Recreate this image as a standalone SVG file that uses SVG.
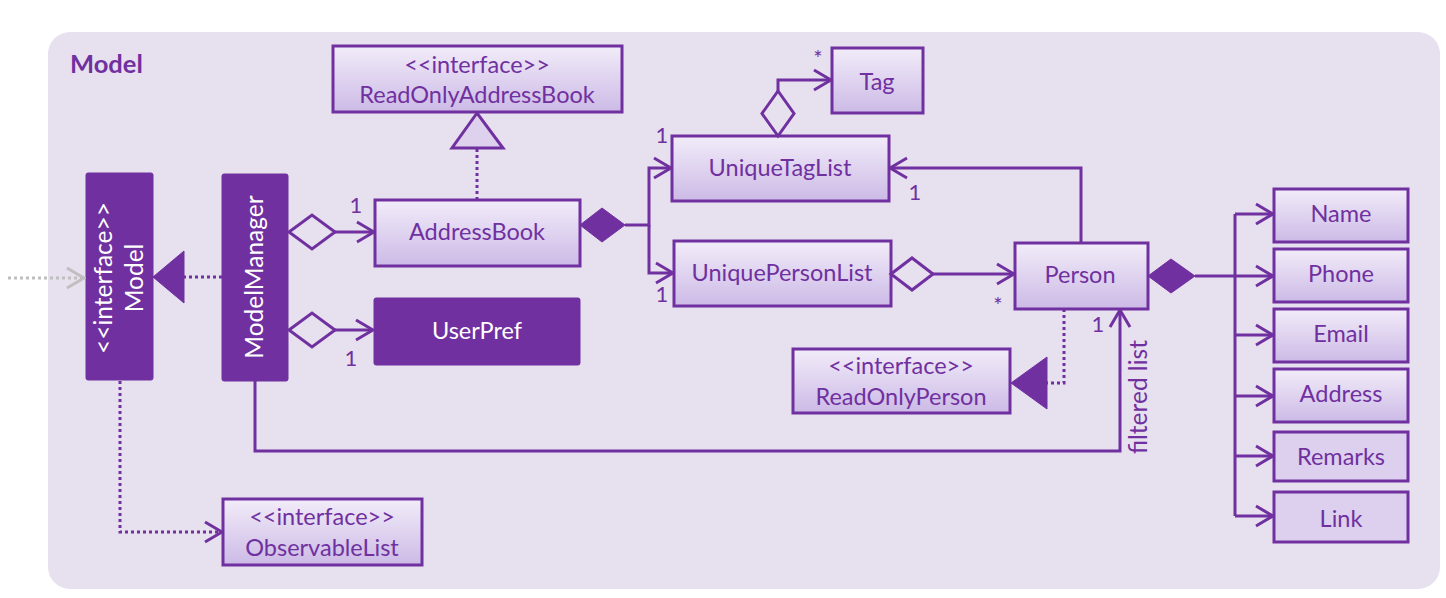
<svg xmlns="http://www.w3.org/2000/svg" width="1446" height="598" viewBox="0 0 1446 598">
<defs>
<linearGradient id="lg" x1="0" y1="0" x2="0" y2="1">
<stop offset="0" stop-color="#F2ECF9"/>
<stop offset="1" stop-color="#CCBAE6"/>
</linearGradient>
<marker id="open" viewBox="-20 -12 22 24" refX="0" refY="0" markerWidth="22" markerHeight="24" markerUnits="userSpaceOnUse" orient="auto">
<path d="M-17,-10 L0,0 L-17,10" fill="none" stroke="#7030A0" stroke-width="3"/>
</marker>
<marker id="opengray" viewBox="-20 -12 22 24" refX="0" refY="0" markerWidth="22" markerHeight="24" markerUnits="userSpaceOnUse" orient="auto">
<path d="M-17,-10 L0,0 L-17,10" fill="none" stroke="#BFBFBF" stroke-width="3"/>
</marker>
</defs>
<style>
text{font-family:Lato,"Liberation Sans",sans-serif;fill:#7030A0;}
.box{fill:url(#lg);stroke:#7030A0;stroke-width:3;}
.flat{fill:#DDD0EE;stroke:#7030A0;stroke-width:3;}
.dark{fill:#7030A0;stroke:#7030A0;stroke-width:1;}
.lbl{font-size:23.5px;text-anchor:middle;}
.rot{font-size:24.5px;text-anchor:middle;}
.wt{fill:#FFFFFF;}
.ln{fill:none;stroke:#7030A0;stroke-width:3;}
.dot{fill:none;stroke:#7030A0;stroke-width:3;stroke-dasharray:3 3;}
.mult{font-size:22px;text-anchor:middle;}
.hd{fill:#E7E0EE;stroke:#7030A0;stroke-width:3;}
.fd{fill:#7030A0;stroke:#7030A0;stroke-width:1;}
</style>
<g id="model-package">
<rect x="48" y="32" width="1392" height="557" rx="22" fill="#E7E0EE"/>
<text x="70" y="73" font-size="25.5" font-weight="bold">Model</text>
</g>
<g id="Model">
<rect class="dark" x="86" y="173" width="67" height="207" rx="2"/>
<text class="rot wt" transform="translate(112,278) rotate(-90)">&lt;&lt;interface&gt;&gt;</text>
<text class="rot wt" transform="translate(143,278) rotate(-90)">Model</text>
</g>
<g id="ModelManager">
<rect class="dark" x="222" y="174" width="66" height="207" rx="2"/>
<text class="rot wt" transform="translate(263,277) rotate(-90)">ModelManager</text>
</g>
<g id="ReadOnlyAddressBook">
<rect class="box" x="333" y="46" width="289" height="66"/>
<text class="lbl" x="477" y="73">&lt;&lt;interface&gt;&gt;</text>
<text class="lbl" x="477" y="103">ReadOnlyAddressBook</text>
</g>
<g id="AddressBook">
<rect class="box" x="375" y="200" width="205" height="66"/>
<text class="lbl" x="477" y="240">AddressBook</text>
</g>
<g id="UserPref">
<rect class="dark" x="374" y="298" width="206" height="67" rx="2"/>
<text class="lbl wt" x="477" y="339">UserPref</text>
</g>
<g id="Tag">
<rect class="box" x="832" y="48" width="91" height="65"/>
<text class="lbl" x="877" y="90">Tag</text>
</g>
<g id="UniqueTagList">
<rect class="box" x="672" y="136" width="217" height="65"/>
<text class="lbl" x="780" y="176">UniqueTagList</text>
</g>
<g id="UniquePersonList">
<rect class="box" x="674" y="241" width="217" height="65"/>
<text class="lbl" x="782" y="281">UniquePersonList</text>
</g>
<g id="Person">
<rect class="box" x="1015" y="243" width="133" height="66"/>
<text class="lbl" x="1080" y="283">Person</text>
</g>
<g id="ReadOnlyPerson">
<rect class="box" x="793" y="349" width="217" height="64"/>
<text class="lbl" x="901" y="374">&lt;&lt;interface&gt;&gt;</text>
<text class="lbl" x="901" y="405">ReadOnlyPerson</text>
</g>
<g id="ObservableList">
<rect class="box" x="223" y="499" width="199" height="66"/>
<text class="lbl" x="322" y="525">&lt;&lt;interface&gt;&gt;</text>
<text class="lbl" x="322" y="556">ObservableList</text>
</g>
<g id="Name">
<rect class="box" x="1274" y="189" width="134" height="53"/>
<text class="lbl" x="1341" y="222">Name</text>
</g>
<g id="Phone">
<rect class="box" x="1274" y="249" width="134" height="53"/>
<text class="lbl" x="1341" y="282">Phone</text>
</g>
<g id="Email">
<rect class="box" x="1274" y="309" width="134" height="53"/>
<text class="lbl" x="1341" y="342">Email</text>
</g>
<g id="Address">
<rect class="box" x="1274" y="369" width="134" height="53"/>
<text class="lbl" x="1341" y="402">Address</text>
</g>
<g id="Remarks">
<rect class="flat" x="1274" y="432" width="134" height="49"/>
<text class="lbl" x="1341" y="465">Remarks</text>
</g>
<g id="Link">
<rect class="flat" x="1274" y="492" width="134" height="50"/>
<text class="lbl" x="1341" y="527">Link</text>
</g>
<g id="connectors">
<path d="M8,278 H84" fill="none" stroke="#BFBFBF" stroke-width="3" stroke-dasharray="3 3" marker-end="url(#opengray)"/>
<path class="dot" d="M222,277 H184"/>
<polygon class="fd" points="153,277 184,251 184,303"/>
<polygon class="hd" points="289,232 312,215 335,232 312,249"/>
<path class="ln" d="M335,232 H374" marker-end="url(#open)"/>
<text class="mult" x="356" y="213">1</text>
<polygon class="hd" points="289,330 312,313 335,330 312,347"/>
<path class="ln" d="M335,330 H373" marker-end="url(#open)"/>
<text class="mult" x="351" y="366">1</text>
<path class="dot" d="M477,200 V148"/>
<polygon points="477,113 452,148 503,148" fill="#DDD1EE" stroke="#7030A0" stroke-width="3"/>
<polygon class="fd" points="580,225 602,208 625,225 602,242"/>
<path class="ln" d="M625,225 H649 V168 H671" marker-end="url(#open)"/>
<path class="ln" d="M649,225 V273 H673" marker-end="url(#open)"/>
<text class="mult" x="662" y="143">1</text>
<text class="mult" x="662" y="302">1</text>
<polygon class="hd" points="778,136 762,113.5 778,91 794,113.5"/>
<path class="ln" d="M778,91 V80 H831" marker-end="url(#open)"/>
<text class="mult" x="818" y="66">*</text>
<path class="ln" d="M1081,243 V168 H890" marker-end="url(#open)"/>
<text class="mult" x="915" y="200">1</text>
<polygon class="hd" points="891,274 912,258 933,274 912,290"/>
<path class="ln" d="M933,274 H1014" marker-end="url(#open)"/>
<text class="mult" x="998" y="313">*</text>
<path class="dot" d="M1064,309 V383 H1047"/>
<polygon class="fd" points="1011,383 1047,357 1047,409"/>
<path class="ln" d="M255,381 V451 H1120 V310" marker-end="url(#open)"/>
<text class="mult" x="1098" y="332">1</text>
<text class="rot" transform="translate(1147,397) rotate(-90)">filtered list</text>
<polygon class="fd" points="1148,276 1171,259 1195,276 1171,293"/>
<path class="ln" d="M1195,276 H1273" marker-end="url(#open)"/>
<path class="ln" d="M1235,214 V516"/>
<path class="ln" d="M1235,214 H1273" marker-end="url(#open)"/>
<path class="ln" d="M1235,335 H1273" marker-end="url(#open)"/>
<path class="ln" d="M1235,396 H1273" marker-end="url(#open)"/>
<path class="ln" d="M1235,456 H1273" marker-end="url(#open)"/>
<path class="ln" d="M1235,516 H1273" marker-end="url(#open)"/>
<path class="dot" d="M120,381 V532 H222" marker-end="url(#open)"/>
</g>
</svg>
